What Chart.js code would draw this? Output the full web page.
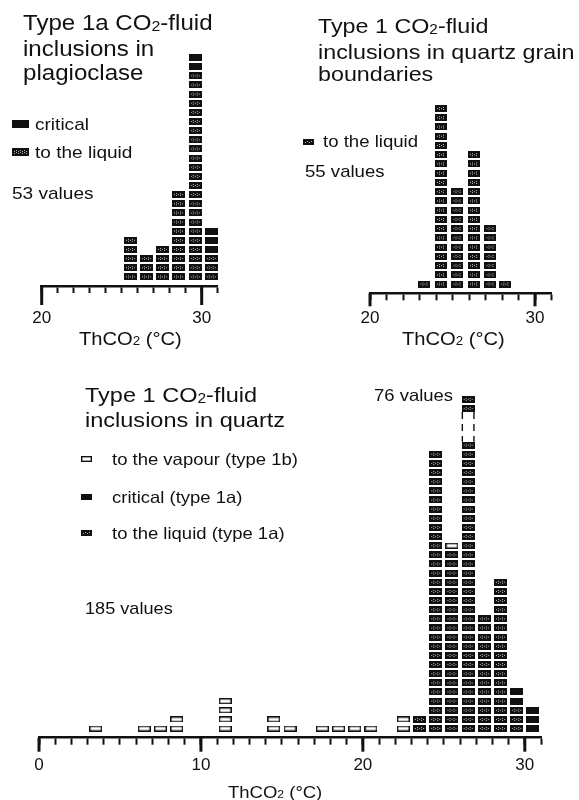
<!DOCTYPE html>
<html>
<head>
<meta charset="utf-8">
<script src="https://cdn.jsdelivr.net/npm/chart.js@4.4.1/dist/chart.umd.min.js"></script>
<style>
  html, body { margin: 0; padding: 0; background: #fff; }
  #page { position: relative; width: 579px; height: 800px; overflow: hidden;
          font-family: "Liberation Sans", Arial, sans-serif; color: #111; }
  .box { position: absolute; }
  .t { position: absolute; white-space: nowrap; line-height: 1;
       transform: scaleX(1.12); transform-origin: 0 0; }
  .t sub { font-size: 0.66em; vertical-align: baseline; position: relative; top: 0.04em; }
  canvas.mk { position: absolute; }
</style>
</head>
<body>
<div id="page">
  <div class="box" style="left:0;top:0;width:290px;height:360px"><canvas id="chartA"></canvas></div>
  <div class="box" style="left:290px;top:0;width:289px;height:360px"><canvas id="chartB"></canvas></div>
  <div class="box" style="left:0;top:370px;width:579px;height:430px"><canvas id="chartC"></canvas></div>

  <!-- panel A -->
  <div class="t" style="left:23px;top:11px;font-size:21.5px;line-height:24px">Type 1a CO<sub>2</sub>-fluid<br>inclusions in<br>plagioclase</div>
  <div class="t" style="left:35px;top:115.7px;font-size:17px">critical</div>
  <div class="t" style="left:35px;top:143.7px;font-size:17px">to the liquid</div>
  <div class="t" style="left:12px;top:184.7px;font-size:17px">53 values</div>
  <div class="t" style="left:79px;top:330px;font-size:18px">ThCO<sub>2</sub> (°C)</div>

  <!-- panel B -->
  <div class="t" style="left:318px;top:15px;font-size:20.8px;line-height:22.5px">Type 1 CO<sub>2</sub>-fluid<br>inclusions in quartz grain<br>boundaries</div>
  <div class="t" style="left:323px;top:133.6px;font-size:16.6px">to the liquid</div>
  <div class="t" style="left:305px;top:163.6px;font-size:16.6px">55 values</div>
  <div class="t" style="left:402px;top:330px;font-size:18px">ThCO<sub>2</sub> (°C)</div>

  <!-- panel C -->
  <div class="t" style="left:85px;top:384px;font-size:21px;line-height:21.5px">Type 1 CO<sub>2</sub>-fluid<br>inclusions in quartz</div>
  <div class="t" style="left:112px;top:450.9px;font-size:16.5px">to the vapour (type 1b)</div>
  <div class="t" style="left:112px;top:488.9px;font-size:16.5px">critical (type 1a)</div>
  <div class="t" style="left:112px;top:524.9px;font-size:16.5px">to the liquid (type 1a)</div>
  <div class="t" style="left:85px;top:600px;font-size:16.2px">185 values</div>
  <div class="t" style="left:374px;top:386.9px;font-size:16.5px">76 values</div>
  <div class="t" style="left:228px;top:783.9px;font-size:16.5px">ThCO<sub>2</sub> (°C)</div>
</div>
<script>
// Type 1a inclusions in plagioclase (bin centres, °C)
const binsA = [25.55, 26.55, 27.55, 28.55, 29.6, 30.6];
const liquidA = [5, 3, 4, 10, 23, 3];
const criticalA = [0, 0, 0, 0, 2, 3];

// Type 1 inclusions in quartz grain boundaries
const binsB = [23.3, 24.3, 25.3, 26.3, 27.3, 28.2];
const liquidB = [1, 20, 11, 15, 7, 1];

// Type 1 inclusions in quartz
const binsC = [3.5, 6.5, 7.5, 8.5, 11.5, 14.5, 15.5, 17.5, 18.5, 19.5, 20.5,
               22.5, 23.5, 24.5, 25.5, 26.5, 27.5, 28.5, 29.5, 30.5];
const liquidC = [0, 0, 0, 0, 0, 0, 0, 0, 0, 0, 0,
                 0, 2, 31, 20, 76, 13, 17, 3, 0];
const criticalC = [0, 0, 0, 0, 0, 0, 0, 0, 0, 0, 0,
                   0, 0, 0, 0, 0, 0, 0, 2, 3];
const vapourC = [1, 1, 1, 2, 4, 2, 1, 1, 1, 1, 1,
                 2, 0, 0, 1, 0, 0, 0, 0, 0];

const majorStep = 10;

function makeSprite(type, w, h) {
    const c = document.createElement('canvas');
    c.width = w; c.height = h;
    const g = c.getContext('2d');
    if (type === 'vapour') {
        g.fillStyle = '#fff';
        g.fillRect(0, 0, w, h);
        g.strokeStyle = '#111';
        g.lineWidth = 1.4;
        g.strokeRect(0.7, 0.7, w - 1.4, h - 1.4);
    } else {
        g.fillStyle = '#111';
        g.fillRect(0, 0, w, h);
        if (type === 'liquid') {
            g.fillStyle = '#b8b8b8';
            for (let y = 2; y < h - 2; y++) {
                for (let x = 2; x < w - 2; x++) {
                    if ((x * 3 + y * 2) % 4 === 0) g.fillRect(x, y, 1, 1);
                }
            }
        }
    }
    return c;
}

// one box per inclusion, stacked bottom to top; tall columns get a break
function stackPoints(bins, layers, cut) {
    const out = layers.map(() => []);
    const broken = [];
    bins.forEach((x, i) => {
        const total = layers.reduce((s, l) => s + l.counts[i], 0);
        const isBroken = cut && total > cut.max;
        if (isBroken) broken.push(x);
        let level = 0;
        layers.forEach((l, j) => {
            for (let n = 0; n < l.counts[i]; n++) {
                level++;
                let shown = level;
                if (isBroken) {
                    if (level > cut.below && level <= total - cut.above) continue;
                    if (level > total - cut.above) shown = cut.max - (total - level);
                }
                out[j].push({ x: x, y: shown - 0.5 });
            }
        });
    });
    return { out, broken };
}

const majorTicks = {
    id: 'majorTicks',
    afterDraw(chart, args, opts) {
        const sx = chart.scales.x;
        const ctx = chart.ctx;
        const y0 = chart.chartArea.bottom;
        ctx.save();
        ctx.strokeStyle = '#111';
        ctx.lineWidth = 3;
        for (let v = Math.ceil(sx.min / majorStep) * majorStep; v <= sx.max; v += majorStep) {
            const px = sx.getPixelForValue(v);
            ctx.beginPath();
            ctx.moveTo(px, y0);
            ctx.lineTo(px, y0 + opts.len);
            ctx.stroke();
        }
        ctx.restore();
    }
};

const breakMark = {
    id: 'breakMark',
    afterDatasetsDraw(chart, args, opts) {
        if (!opts.cols || !opts.cols.length) return;
        const sx = chart.scales.x, sy = chart.scales.y;
        const ctx = chart.ctx;
        ctx.save();
        ctx.strokeStyle = '#111';
        ctx.lineWidth = 1.4;
        ctx.setLineDash([7, 5]);
        opts.cols.forEach(x => {
            const px = sx.getPixelForValue(x);
            const yLow = sy.getPixelForValue(opts.below - 0.5) - opts.h / 2;
            const yHigh = sy.getPixelForValue(opts.max - opts.above + 0.5) + opts.h / 2;
            [px - opts.w / 2 + 0.7, px + opts.w / 2 - 0.7].forEach(lx => {
                ctx.beginPath();
                ctx.moveTo(lx, yHigh);
                ctx.lineTo(lx, yLow);
                ctx.stroke();
            });
        });
        ctx.restore();
    }
};

function histChart(id, cfg) {
    const sprites = {
        liquid: makeSprite('liquid', cfg.boxW, cfg.boxH),
        critical: makeSprite('critical', cfg.boxW, cfg.boxH),
        vapour: makeSprite('vapour', cfg.boxW, cfg.boxH - 1)
    };
    const res = stackPoints(cfg.bins, cfg.layers, cfg.cut);
    return new Chart(document.getElementById(id), {
        type: 'scatter',
        data: {
            datasets: cfg.layers.map((l, j) => ({
                label: l.name,
                data: res.out[j],
                pointStyle: sprites[l.name],
                pointRadius: 4,
                clip: false
            }))
        },
        options: {
            animation: false,
            responsive: true,
            maintainAspectRatio: false,
            events: [],
            layout: { padding: cfg.pad },
            plugins: {
                legend: { display: false },
                tooltip: { enabled: false },
                majorTicks: { len: cfg.majorLen },
                breakMark: cfg.cut ? {
                    cols: res.broken, below: cfg.cut.below, above: cfg.cut.above,
                    max: cfg.cut.max, w: cfg.boxW, h: cfg.boxH
                } : {}
            },
            scales: {
                x: {
                    type: 'linear',
                    min: cfg.xMin,
                    max: cfg.xMax,
                    afterFit: s => { s.height = 40; },
                    border: { display: true, width: 2.5, color: '#111' },
                    grid: {
                        display: true, drawOnChartArea: false,
                        tickLength: 7, tickWidth: 2, tickColor: '#111', color: '#111'
                    },
                    ticks: {
                        stepSize: 1,
                        autoSkip: false,
                        maxTicksLimit: 100,
                        maxRotation: 0,
                        padding: cfg.labelPad,
                        color: '#111',
                        font: { family: 'Liberation Sans', size: 17 },
                        callback: v => Math.abs(v % majorStep) < 1e-6 ? v : ''
                    }
                },
                y: { display: false, min: -0.5, max: cfg.yMax }
            }
        },
        plugins: [majorTicks, breakMark]
    });
}

histChart('chartA', {
    bins: binsA,
    layers: [{ name: 'liquid', counts: liquidA }, { name: 'critical', counts: criticalA }],
    xMin: 20, xMax: 31, yMax: 30.25,
    pad: { left: 41.7, right: 72.3, top: 0, bottom: 34 },
    boxW: 13, boxH: 7, majorLen: 19, labelPad: 15.5
});

histChart('chartB', {
    bins: binsB,
    layers: [{ name: 'liquid', counts: liquidB }],
    xMin: 20, xMax: 31, yMax: 30.7,
    pad: { left: 80, right: 27.5, top: 0, bottom: 26.7 },
    boxW: 12, boxH: 7, majorLen: 13, labelPad: 8
});

histChart('chartC', {
    bins: binsC,
    layers: [{ name: 'liquid', counts: liquidC }, { name: 'critical', counts: criticalC },
             { name: 'vapour', counts: vapourC }],
    cut: { below: 32, above: 2, max: 37 },
    xMin: 0, xMax: 31, yMax: 39.17,
    pad: { left: 39, right: 38, top: 0, bottom: 22.3 },
    boxW: 13, boxH: 7, majorLen: 14, labelPad: 10
});

// legend markers, drawn with the same box sprites
[
    ['critical', 17, 8, 12, 120], ['liquid', 17, 8, 12, 148],
    ['liquid', 11, 6, 303, 139],
    ['vapour', 11, 6, 81, 456], ['critical', 11, 6, 81, 494], ['liquid', 11, 6, 81, 530]
].forEach(([type, w, h, left, top]) => {
    const c = makeSprite(type, w, h);
    c.className = 'mk';
    c.style.left = left + 'px';
    c.style.top = top + 'px';
    document.getElementById('page').appendChild(c);
});
</script>
</body>
</html>
